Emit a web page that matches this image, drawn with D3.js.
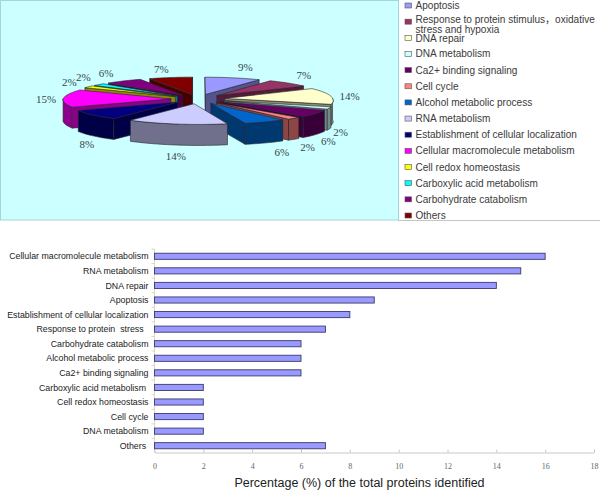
<!DOCTYPE html>
<html>
<head>
<meta charset="utf-8">
<script src="https://cdnjs.cloudflare.com/ajax/libs/d3/7.8.5/d3.min.js"></script>
<style>
  html, body { margin: 0; padding: 0; background: #fff; }
  svg { display: block; }
  text { white-space: pre; }
</style>
</head>
<body>
<div id="chart"></div>
<script>
const pieNames = ["Apoptosis", "Response to protein stimulus，oxidative", "DNA repair", "DNA metabolism",
  "Ca2+ binding signaling", "Cell cycle", "Alcohol metabolic process", "RNA metabolism",
  "Establishment of cellular localization", "Cellular macromolecule metabolism", "Cell redox homeostasis",
  "Carboxylic acid metabolism", "Carbohydrate catabolism", "Others"];
const pieValues = [9, 7, 14, 2, 6, 2, 6, 14, 8, 15, 2, 2, 6, 7];
const pieColors = ["#9999ff", "#993366", "#ffffcc", "#ccffff", "#660066", "#ff8080", "#0066cc",
  "#ccccff", "#000080", "#ff00ff", "#ffff00", "#00ffff", "#800080", "#800000"];

const barNames = ["Cellular macromolecule metabolism", "RNA metabolism", "DNA repair", "Apoptosis",
  "Establishment of cellular localization", "Response to protein  stress  ", "Carbohydrate catabolism",
  "Alcohol metabolic process", "Ca2+ binding signaling", "Carboxylic acid metabolism ",
  "Cell redox homeostasis", "Cell cycle", "DNA metabolism", "Others "];
const barValues = [16, 15, 14, 9, 8, 7, 6, 6, 6, 2, 2, 2, 2, 7];
const xTicks = [0, 2, 4, 6, 8, 10, 12, 14, 16, 18];

const svg = d3.select("#chart").append("svg")
  .attr("width", 600)
  .attr("height", 490);

// panels
svg.append("rect").attr("x", 0.5).attr("y", 0.5).attr("width", 398).attr("height", 219.5)
  .attr("fill", "#ccffff").attr("stroke", "#a5d5d8");
svg.append("line").attr("x1", 398).attr("x2", 600).attr("y1", 220.5).attr("y2", 220.5).attr("stroke", "#c4c4c4");

// --- pie ---
const cx = 198, cy = 99, rx = 108, ry = 19, depth = 21, explode = 0.25, nearScale = 0.06, frontShift = 5;

const project = (px, py) => {
  const s = 1 + nearScale * py;
  return [cx + px * rx * s + Math.max(py, 0) * frontShift, cy + py * ry * s];
};
const polar = (a, r) => [Math.sin(a) * r, -Math.cos(a) * r];
const drop = p => [p[0], p[1] + depth];
const outline = d3.line().curve(d3.curveLinearClosed);

const slices = d3.pie().sort(null)(pieValues).map((d, i) => {
  const mid = (d.startAngle + d.endAngle) / 2;
  const [ox, oy] = polar(mid, explode);
  const pt = (a, r) => {
    const [x, y] = polar(a, r);
    return project(x + ox, y + oy);
  };
  return { i, a: d.startAngle, b: d.endAngle, mid, oy, pt };
});

function arcPoints(s, from, to) {
  const n = Math.max(2, Math.ceil((to - from) / 0.03));
  return d3.range(n + 1).map(k => s.pt(from + (to - from) * k / n, 1));
}

const wall = i => {
  const c = d3.rgb(pieColors[i]);
  return d3.rgb(c.r * 0.55, c.g * 0.55, c.b * 0.55).formatHex();
};

const pieG = svg.append("g");
slices.slice().sort((p, q) => p.oy - q.oy).forEach(s => {
  const g = pieG.append("g")
    .attr("fill", wall(s.i)).attr("stroke", "#26262e").attr("stroke-width", 0.6).attr("stroke-linejoin", "round");
  const apex = s.pt(0, 0);
  if (Math.sin(s.a) <= 0.001) {
    const e = s.pt(s.a, 1);
    g.append("path").attr("d", outline([apex, e, drop(e), drop(apex)]));
  }
  if (Math.sin(s.b) >= -0.001) {
    const e = s.pt(s.b, 1);
    g.append("path").attr("d", outline([apex, e, drop(e), drop(apex)]));
  }
  const from = Math.max(s.a, Math.PI / 2), to = Math.min(s.b, Math.PI * 1.5);
  if (to > from) {
    const pts = arcPoints(s, from, to);
    g.append("path").attr("d", outline(pts.concat(pts.slice().reverse().map(drop))));
  }
  g.append("path").attr("fill", pieColors[s.i]).attr("d", outline([apex].concat(arcPoints(s, s.a, s.b))));
});

// percent labels sit outside the rim, nudged apart by hand like the original
const labelNudge = [[8, -8], [4, -6], [1, 0], [-7, 2], [-4, 4], [0, 5], [7, 6], [2, 7], [9, 6], [1, 1], [-5, -3], [-3, -6], [-8, -6], [-6, -6]];
slices.forEach(s => {
  const p = s.pt(s.mid, 1.17);
  const front = Math.cos(s.mid) < 0 ? depth : 0;
  svg.append("text")
    .attr("x", p[0] + labelNudge[s.i][0])
    .attr("y", p[1] + front + labelNudge[s.i][1])
    .attr("dy", "0.35em")
    .attr("text-anchor", "middle")
    .attr("font-family", "Liberation Serif")
    .attr("font-size", 11)
    .attr("fill", "#33474d")
    .text(pieValues[s.i] + "%");
});

// --- legend ---
const legendY = d3.scalePoint().domain(pieNames).range([5.5, 215.5]);
const legend = svg.append("g").selectAll("g").data(pieNames).join("g")
  .attr("transform", d => `translate(405,${legendY(d)})`);
legend.append("rect")
  .attr("x", 0).attr("y", -2.5).attr("width", 6.5).attr("height", 5)
  .attr("fill", (d, i) => pieColors[i])
  .attr("stroke", "#555").attr("stroke-width", 0.6);
// the wrapped entry squeezes against DNA repair, so those lines get a little room
legend.append("text")
  .attr("x", 10.5)
  .attr("y", (d, i) => i === 1 ? -2.5 : i === 2 ? 1 : 0)
  .attr("dy", "0.35em")
  .attr("font-family", "Liberation Sans, 'Noto Sans CJK SC'")
  .attr("font-size", 10.05)
  .attr("fill", "#3a3a3a")
  .text(d => d);
svg.append("text")
  .attr("x", 415.5).attr("y", legendY(pieNames[1]) + 7.5).attr("dy", "0.35em")
  .attr("font-family", "Liberation Sans").attr("font-size", 10.05).attr("fill", "#3a3a3a")
  .text("stress and hypoxia");

// --- bars ---
const x = d3.scaleLinear().domain([0, 18]).range([154.5, 594]);
const y = d3.scaleBand().domain(barNames).range([249, 453]).paddingInner(0.58).paddingOuter(0.29);

const xAxis = svg.append("g")
  .attr("transform", "translate(0,452.5)")
  .call(d3.axisBottom(x).tickValues(xTicks).tickSize(-3).tickSizeOuter(0).tickPadding(11));
xAxis.select(".domain").attr("stroke", "#c8c8c8");
xAxis.selectAll(".tick line").attr("stroke", "#c8c8c8");
xAxis.selectAll("text")
  .attr("font-family", "Liberation Serif").attr("font-size", 8).attr("fill", "#666");

const step = y.step();
const yAxis = svg.append("g").attr("transform", "translate(154.5,0)");
yAxis.append("line").attr("y1", 249).attr("y2", 453).attr("stroke", "#d8d8c8");
yAxis.selectAll(".edge").data(barNames).join("line")
  .attr("class", "edge")
  .attr("x1", -3).attr("x2", 0)
  .attr("y1", d => y(d) + y.bandwidth() / 2 - step / 2)
  .attr("y2", d => y(d) + y.bandwidth() / 2 - step / 2)
  .attr("stroke", "#d8d8c8");

svg.selectAll(".bar").data(barNames).join("rect")
  .attr("class", "bar")
  .attr("x", x(0))
  .attr("y", d => y(d))
  .attr("width", (d, i) => x(barValues[i]) - x(0))
  .attr("height", y.bandwidth())
  .attr("fill", "#9999ff")
  .attr("stroke", "#3b3b6b")
  .attr("stroke-width", 0.9);

svg.selectAll(".name").data(barNames).join("text")
  .attr("class", "name")
  .attr("x", 148.5)
  .attr("y", d => y(d) + y.bandwidth() / 2)
  .attr("dy", "0.35em")
  .attr("text-anchor", "end")
  .attr("font-family", "Liberation Sans")
  .attr("font-size", 8.8)
  .attr("fill", "#222")
  .text(d => d);

svg.append("text")
  .attr("x", 359.5).attr("y", 487)
  .attr("text-anchor", "middle")
  .attr("font-family", "Liberation Sans")
  .attr("font-size", 12.5)
  .attr("fill", "#222")
  .text("Percentage (%) of the total proteins identified");
</script>
</body>
</html>
